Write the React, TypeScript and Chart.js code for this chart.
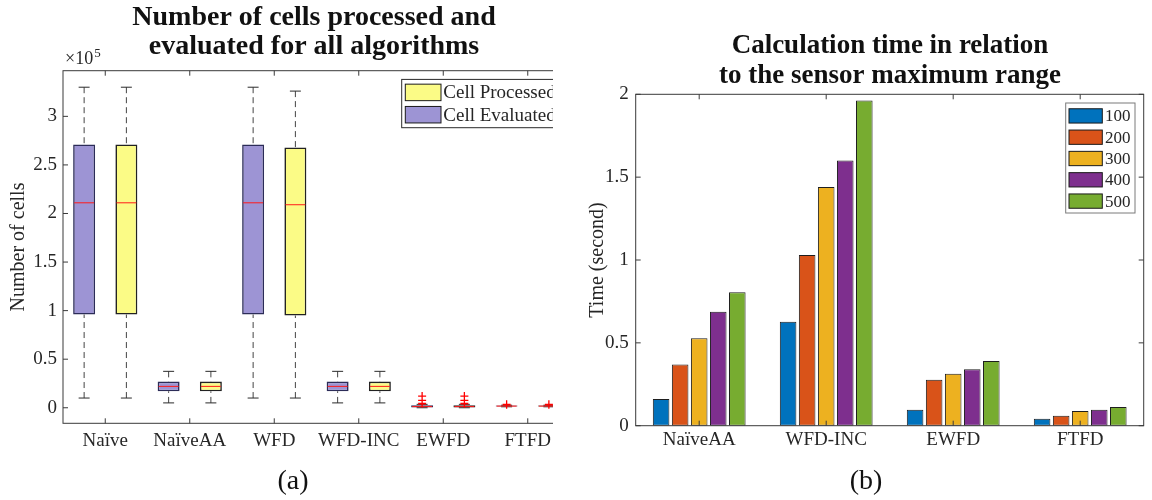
import React, { useEffect, useRef } from 'react';
import { Chart, registerables } from 'chart.js';

Chart.register(...registerables);

const SERIF = '"Liberation Serif", "Times New Roman", serif';
const INK = '#262626';

// ---------- (a) box plot data (number of cells) ----------
const algorithms = ['Naïve', 'NaïveAA', 'WFD', 'WFD-INC', 'EWFD', 'FTFD'];
const cellTicks = [0, 50000, 100000, 150000, 200000, 250000, 300000];

const evaluatedLow = [10000, 5000, 10000, 5000, 0, 1000];
const evaluatedQ1 = [96000, 17000, 96000, 17000, 300, 1200];
const evaluatedMedian = [211000, 22000, 211000, 22000, 1200, 1700];
const evaluatedQ3 = [271000, 27000, 271000, 27000, 2500, 2200];
const evaluatedHigh = [330000, 37500, 330000, 37500, 3500, 2600];
const evaluatedOutliers = [[], [], [], [], [4000, 4600, 7500, 12000], [3000, 3500]];

const processedLow = [10000, 5000, 10000, 5000, 0, 1000];
const processedQ1 = [96000, 17000, 95000, 17000, 300, 1200];
const processedMedian = [211000, 22000, 209000, 22000, 1200, 1700];
const processedQ3 = [271000, 27000, 268000, 27000, 2500, 2200];
const processedHigh = [330000, 37500, 326000, 37500, 3500, 2600];
const processedOutliers = [[], [], [], [], [4000, 4600, 7500, 12000], [3000, 3500]];

// ---------- (b) bar chart data (time in seconds) ----------
const barAlgorithms = ['NaïveAA', 'WFD-INC', 'EWFD', 'FTFD'];
const timeTicks = [0, 0.5, 1, 1.5, 2];
const rangeLabels = ['100', '200', '300', '400', '500'];
const time100 = [0.161, 0.627, 0.096, 0.042];
const time200 = [0.369, 1.03, 0.277, 0.06];
const time300 = [0.528, 1.44, 0.313, 0.088];
const time400 = [0.687, 1.60, 0.34, 0.096];
const time500 = [0.805, 1.963, 0.39, 0.113];
const rangeColors = ['#0072BD', '#D95319', '#EDB120', '#7E2F8E', '#77AC30'];

const PURPLE = '#9d94d4';
const YELLOW = '#fbfb86';

const boxStats = [
  { low: evaluatedLow, q1: evaluatedQ1, med: evaluatedMedian, q3: evaluatedQ3, high: evaluatedHigh, out: evaluatedOutliers },
  { low: processedLow, q1: processedQ1, med: processedMedian, q3: processedQ3, high: processedHigh, out: processedOutliers },
];

const frameAndTicks = {
  id: 'frameAndTicks',
  afterDraw(chart: any) {
    const { ctx, chartArea: a, scales } = chart;
    const x = scales.x;
    const y = scales.y;
    const len = 5;
    ctx.save();
    ctx.strokeStyle = '#3a3a3a';
    ctx.lineWidth = 1;
    ctx.strokeRect(a.left, a.top, a.right - a.left, a.bottom - a.top);
    ctx.beginPath();
    x.ticks.forEach((_: any, i: number) => {
      const px = x.getPixelForTick(i);
      ctx.moveTo(px, a.bottom);
      ctx.lineTo(px, a.bottom - len);
      ctx.moveTo(px, a.top);
      ctx.lineTo(px, a.top + len);
    });
    y.ticks.forEach((_: any, i: number) => {
      const py = y.getPixelForTick(i);
      ctx.moveTo(a.left, py);
      ctx.lineTo(a.left + len, py);
      ctx.moveTo(a.right, py);
      ctx.lineTo(a.right - len, py);
    });
    ctx.stroke();
    ctx.restore();
  },
};

const headings = {
  id: 'headings',
  afterDraw(chart: any, _args: any, o: any) {
    const { ctx } = chart;
    ctx.save();
    ctx.fillStyle = '#111';
    ctx.font = `bold ${o.size}px ${SERIF}`;
    ctx.textAlign = 'center';
    ctx.textBaseline = 'alphabetic';
    o.lines.forEach((t: string, i: number) => ctx.fillText(t, o.cx, o.baselines[i]));
    if (o.exponent) {
      const a = chart.chartArea;
      ctx.fillStyle = INK;
      ctx.textAlign = 'left';
      ctx.font = `18px ${SERIF}`;
      ctx.fillText('×10', a.left + 2, a.top - 7);
      const w = ctx.measureText('×10').width;
      ctx.font = `13px ${SERIF}`;
      ctx.fillText(o.exponent, a.left + 2 + w + 1, a.top - 14);
    }
    ctx.restore();
  },
};

const boxedLegend = {
  id: 'boxedLegend',
  afterDraw(chart: any, _args: any, o: any) {
    const { ctx, chartArea: a } = chart;
    const ds = chart.data.datasets;
    const order = ds.map((_: any, i: number) => i);
    if (o.reverse) order.reverse();
    const right = a.right - o.inset;
    const left = right - o.w;
    const top = a.top + o.inset;
    ctx.save();
    ctx.fillStyle = '#ffffff';
    ctx.fillRect(left, top, o.w, o.h);
    ctx.strokeStyle = o.border;
    ctx.lineWidth = 1;
    ctx.strokeRect(left, top, o.w, o.h);
    order.forEach((di: number, k: number) => {
      const d = ds[di];
      const cy = top + o.firstRow + k * o.rowH;
      ctx.fillStyle = d.backgroundColor;
      ctx.fillRect(left + o.swX, cy - o.swH / 2, o.swW, o.swH);
      ctx.strokeStyle = '#1a1a1a';
      ctx.strokeRect(left + o.swX, cy - o.swH / 2, o.swW, o.swH);
      ctx.fillStyle = INK;
      ctx.font = `${o.fontSize}px ${SERIF}`;
      ctx.textAlign = 'left';
      ctx.textBaseline = 'middle';
      ctx.fillText(d.label, left + o.textX, cy + 1);
    });
    ctx.restore();
  },
};

const boxWhiskers = {
  id: 'boxWhiskers',
  afterDatasetsDraw(chart: any) {
    const { ctx } = chart;
    const y = chart.scales.y;
    boxStats.forEach((st, di) => {
      const meta = chart.getDatasetMeta(di);
      meta.data.forEach((el: any, j: number) => {
        const cx = el.x;
        const w = el.width;
        const pLow = y.getPixelForValue(st.low[j]);
        const pQ1 = y.getPixelForValue(st.q1[j]);
        const pMed = y.getPixelForValue(st.med[j]);
        const pQ3 = y.getPixelForValue(st.q3[j]);
        const pHigh = y.getPixelForValue(st.high[j]);
        ctx.save();
        ctx.lineWidth = 1;
        ctx.strokeStyle = '#444';
        ctx.setLineDash([6, 4]);
        ctx.beginPath();
        ctx.moveTo(cx, pHigh);
        ctx.lineTo(cx, pQ3);
        ctx.moveTo(cx, pLow);
        ctx.lineTo(cx, pQ1);
        ctx.stroke();
        ctx.setLineDash([]);
        ctx.strokeStyle = '#2a2a2a';
        ctx.beginPath();
        ctx.moveTo(cx - w / 4, pHigh);
        ctx.lineTo(cx + w / 4, pHigh);
        ctx.moveTo(cx - w / 4, pLow);
        ctx.lineTo(cx + w / 4, pLow);
        ctx.stroke();
        ctx.strokeStyle = '#ff1a1a';
        ctx.beginPath();
        ctx.moveTo(cx - w / 2 + 1, pMed);
        ctx.lineTo(cx + w / 2 - 1, pMed);
        ctx.stroke();
        ctx.strokeStyle = '#ff0000';
        ctx.lineWidth = 1.3;
        ctx.beginPath();
        st.out[j].forEach((v: number) => {
          const py = y.getPixelForValue(v);
          ctx.moveTo(cx - 4, py);
          ctx.lineTo(cx + 4, py);
          ctx.moveTo(cx, py - 4);
          ctx.lineTo(cx, py + 4);
        });
        ctx.stroke();
        ctx.restore();
      });
    });
  },
};

const tickFont = { family: SERIF, size: 19 };
const titleFont = { family: SERIF, size: 20 };

function fmt(v: number) {
  return String(Math.round(v * 10) / 10);
}

function BoxChart() {
  const ref = useRef<HTMLCanvasElement>(null);
  useEffect(() => {
    const chart = new Chart(ref.current as HTMLCanvasElement, {
      type: 'bar',
      data: {
        labels: algorithms,
        datasets: [
          {
            label: 'Cell Evaluated',
            data: algorithms.map((_, i) => [evaluatedQ1[i], evaluatedQ3[i]]) as any,
            backgroundColor: PURPLE,
            borderColor: '#2c2c58',
            borderWidth: 1.6,
            borderSkipped: false,
            categoryPercentage: 1,
            barPercentage: 0.52,
          },
          {
            label: 'Cell Processed',
            data: algorithms.map((_, i) => [processedQ1[i], processedQ3[i]]) as any,
            backgroundColor: YELLOW,
            borderColor: '#222222',
            borderWidth: 1.6,
            borderSkipped: false,
            categoryPercentage: 1,
            barPercentage: 0.52,
          },
        ],
      },
      options: {
        animation: false,
        responsive: false,
        layout: { padding: { top: 70.7, right: 10, bottom: 0, left: 0 } },
        plugins: {
          legend: { display: false },
          tooltip: { enabled: false },
          headings: {
            size: 28,
            cx: 314,
            baselines: [25, 54],
            lines: ['Number of cells processed and', 'evaluated for all algorithms'],
            exponent: '5',
          },
          boxedLegend: {
            reverse: true,
            inset: 8.7,
            w: 159.6,
            h: 48.3,
            border: '#2a2a2a',
            swX: 3.6,
            swW: 35.7,
            swH: 16.5,
            firstRow: 13,
            rowH: 22.3,
            textX: 41.6,
            fontSize: 19,
          },
        } as any,
        scales: {
          x: {
            offset: true,
            grid: { display: false, drawTicks: false },
            border: { display: false },
            ticks: { font: tickFont, color: INK, padding: 6, maxRotation: 0, autoSkip: false },
            afterFit: (s: any) => {
              s.height = 76.7;
            },
          },
          y: {
            min: -16000,
            max: 347000,
            grid: { display: false, drawTicks: false },
            border: { display: false },
            afterBuildTicks: (s: any) => {
              s.ticks = cellTicks.map((v) => ({ value: v }));
            },
            ticks: {
              font: tickFont,
              color: INK,
              padding: 6,
              callback: (v: any) => fmt(Number(v) / 100000),
            },
            title: { display: true, text: 'Number of cells', font: titleFont, color: INK, padding: { top: 6.6, bottom: 0 } },
            afterFit: (s: any) => {
              s.width = 63;
            },
          },
        },
      },
      plugins: [boxWhiskers, frameAndTicks, boxedLegend, headings],
    });
    return () => chart.destroy();
  }, []);
  return <canvas ref={ref} width={580} height={500} style={{ width: 580, height: 500, display: 'block' }} />;
}

function TimeChart() {
  const ref = useRef<HTMLCanvasElement>(null);
  useEffect(() => {
    const series = [time100, time200, time300, time400, time500];
    const chart = new Chart(ref.current as HTMLCanvasElement, {
      type: 'bar',
      data: {
        labels: barAlgorithms,
        datasets: series.map((vals, i) => ({
          label: rangeLabels[i],
          data: vals,
          backgroundColor: rangeColors[i],
          borderColor: '#1e1e1e',
          borderWidth: 1,
          borderSkipped: false,
          categoryPercentage: 0.75,
          barPercentage: 0.87,
        })),
      },
      options: {
        animation: false,
        responsive: false,
        layout: { padding: { top: 94.3, right: 8.3, bottom: 0, left: 0 } },
        plugins: {
          legend: { display: false },
          tooltip: { enabled: false },
          headings: {
            size: 27,
            cx: 314,
            baselines: [53.3, 83.3],
            lines: ['Calculation time in relation', 'to the sensor maximum range'],
          },
          boxedLegend: {
            reverse: false,
            inset: 8.7,
            w: 69.3,
            h: 110,
            border: '#7a7a7a',
            swX: 3.3,
            swW: 33.3,
            swH: 14.3,
            firstRow: 12.9,
            rowH: 21.3,
            textX: 39.3,
            fontSize: 17,
          },
        } as any,
        scales: {
          x: {
            offset: true,
            grid: { display: false, drawTicks: false },
            border: { display: false },
            ticks: { font: tickFont, color: INK, padding: 3.2, maxRotation: 0, autoSkip: false },
            afterFit: (s: any) => {
              s.height = 74.3;
            },
          },
          y: {
            min: 0,
            max: 2,
            grid: { display: false, drawTicks: false },
            border: { display: false },
            afterBuildTicks: (s: any) => {
              s.ticks = timeTicks.map((v) => ({ value: v }));
            },
            ticks: {
              font: tickFont,
              color: INK,
              padding: 7,
              callback: (v: any) => fmt(Number(v)),
            },
            title: { display: true, text: 'Time (second)', font: titleFont, color: INK, padding: { top: 9.6, bottom: 0 } },
            afterFit: (s: any) => {
              s.width = 59.7;
            },
          },
        },
      },
      plugins: [frameAndTicks, boxedLegend, headings],
    });
    return () => chart.destroy();
  }, []);
  return <canvas ref={ref} width={576} height={500} style={{ width: 576, height: 500, display: 'block' }} />;
}

const captionStyle: React.CSSProperties = {
  position: 'absolute',
  top: 465.6,
  width: 60,
  textAlign: 'center',
  fontFamily: SERIF,
  fontSize: 28,
  lineHeight: '28px',
  color: '#111',
};

export default function App() {
  return (
    <div style={{ position: 'absolute', left: 0, top: 0, width: 1152, height: 500, background: '#fff', overflow: 'hidden' }}>
      <div style={{ position: 'absolute', left: 0, top: 0, width: 553, height: 500, overflow: 'hidden' }}>
        <BoxChart />
      </div>
      <div style={{ position: 'absolute', left: 576, top: 0, width: 576, height: 500 }}>
        <TimeChart />
      </div>
      <div style={{ ...captionStyle, left: 263 }}>(a)</div>
      <div style={{ ...captionStyle, left: 836 }}>(b)</div>
    </div>
  );
}
